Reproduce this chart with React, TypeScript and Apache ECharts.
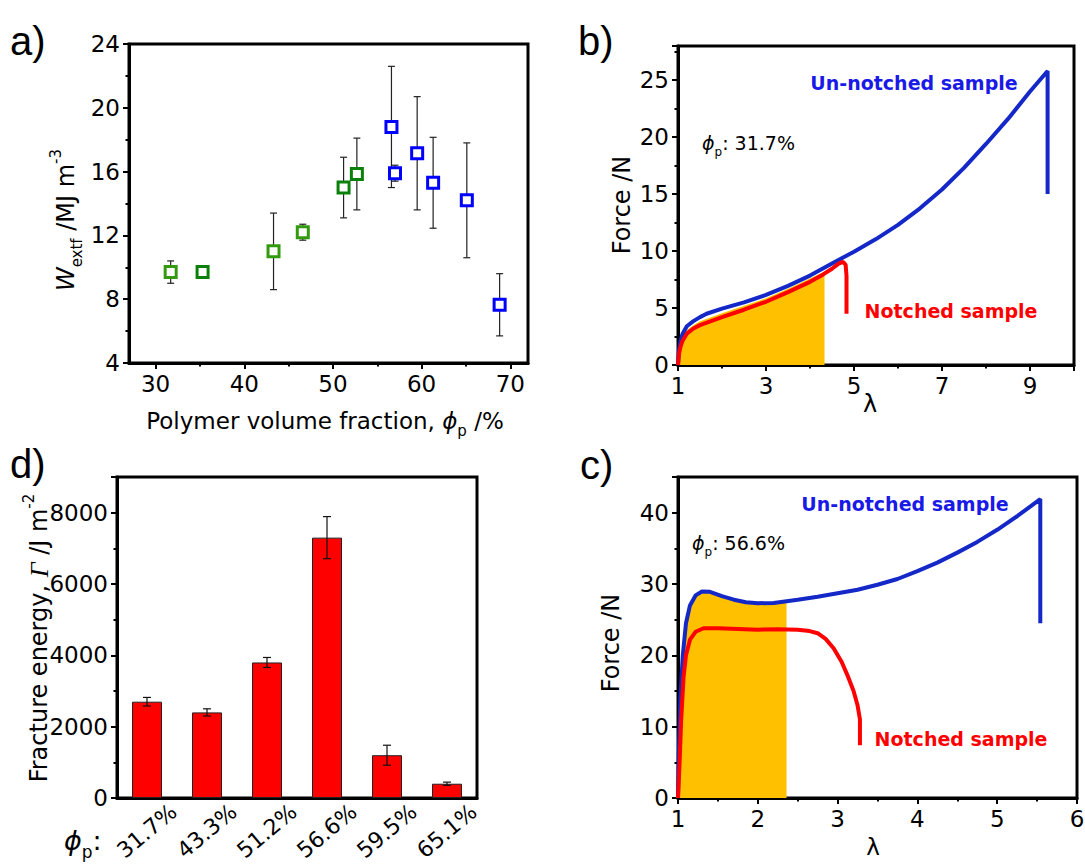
import React, { useEffect, useRef } from "react";
import * as echarts from "echarts";

const FONT = "'DejaVu Sans', 'Liberation Sans', sans-serif";
const SERIF = "'Liberation Serif', 'DejaVu Serif', serif";
const LABEL_FONT = "'Liberation Sans', Arial, sans-serif";

// ---------- panel a: W_extf vs polymer volume fraction ----------
const phiLightGreen = [31.7, 43.3, 46.6];
const wLightGreen = [9.7, 11.0, 12.2];
const errLightGreen = [0.7, 2.4, 0.5];
const phiDarkGreen = [35.3, 51.2, 52.7];
const wDarkGreen = [9.7, 15.0, 15.85];
const errDarkGreen = [0.15, 1.9, 2.25];
const phiBlue = [56.6, 57.0, 59.5, 61.3, 65.1, 68.8];
const wBlue = [18.8, 15.9, 17.15, 15.3, 14.2, 7.65];
const errBlue = [3.8, 0.5, 3.55, 2.85, 3.6, 1.95];
const aXMajorTicks = [30, 40, 50, 60, 70];
const aXMinorTicks = [35, 45, 55, 65];

// ---------- panel b: force vs stretch, phi_p = 31.7% ----------
const bUnnotched: [number, number][] = [
  [1.0, 0], [1.02, 1.2], [1.05, 2.0], [1.1, 2.7], [1.2, 3.4], [1.35, 3.85], [1.5, 4.2],
  [1.65, 4.5], [2.0, 4.95], [2.5, 5.5], [3.0, 6.15], [3.5, 6.95], [4.0, 7.85], [4.5, 8.9],
  [5.0, 9.95], [5.5, 11.05], [6.0, 12.3], [6.5, 13.75], [7.0, 15.4], [7.5, 17.3],
  [8.0, 19.4], [8.5, 21.6], [9.0, 24.0], [9.4, 25.8], [9.4, 15.0],
];
const bNotched: [number, number][] = [
  [1.0, 0], [1.02, 0.9], [1.05, 1.5], [1.1, 2.1], [1.2, 2.75], [1.35, 3.2], [1.5, 3.5],
  [1.75, 3.85], [2.0, 4.2], [2.5, 4.85], [3.0, 5.55], [3.5, 6.4], [4.0, 7.3], [4.3, 7.95],
  [4.5, 8.45], [4.65, 8.9], [4.75, 9.05], [4.81, 8.8], [4.83, 7.8], [4.83, 4.5],
];
const bShaded: [number, number][] = [
  [1.0, 0], [1.02, 1.05], [1.05, 1.75], [1.1, 2.4], [1.2, 3.05], [1.35, 3.5], [1.5, 3.85],
  [1.75, 4.2], [2.0, 4.55], [2.5, 5.2], [3.0, 5.85], [3.5, 6.7], [4.0, 7.6], [4.33, 8.2],
];

// ---------- panel c: force vs stretch, phi_p = 56.6% ----------
const cUnnotched: [number, number][] = [
  [1.0, 0], [1.01, 6], [1.03, 14], [1.06, 20], [1.1, 24.5], [1.15, 27.0], [1.22, 28.4],
  [1.3, 28.95], [1.4, 28.9], [1.55, 28.3], [1.7, 27.8], [1.85, 27.45], [2.0, 27.3],
  [2.2, 27.35], [2.5, 27.8], [2.75, 28.2], [3.0, 28.7], [3.25, 29.2], [3.5, 29.9],
  [3.75, 30.7], [4.0, 31.8], [4.25, 33.0], [4.5, 34.4], [4.75, 35.9], [5.0, 37.6],
  [5.25, 39.5], [5.54, 41.9], [5.54, 24.5],
];
const cNotched: [number, number][] = [
  [1.0, 0], [1.02, 5], [1.04, 11], [1.07, 17], [1.1, 20], [1.15, 22.2], [1.22, 23.3],
  [1.32, 23.8], [1.5, 23.8], [1.75, 23.7], [2.0, 23.6], [2.25, 23.65], [2.5, 23.6],
  [2.65, 23.4], [2.75, 23.1], [2.85, 22.3], [2.95, 21.0], [3.05, 19.1], [3.12, 17.3],
  [3.2, 15.0], [3.25, 13.0], [3.28, 11.0], [3.28, 7.4],
];
const cShaded: [number, number][] = [
  [1.0, 0], [1.01, 6], [1.03, 14], [1.06, 20], [1.1, 24.5], [1.15, 27.0], [1.22, 28.4],
  [1.3, 28.95], [1.4, 28.9], [1.55, 28.3], [1.7, 27.8], [1.85, 27.45], [2.0, 27.3],
  [2.2, 27.35], [2.36, 27.5],
];

// ---------- panel d: fracture energy ----------
const phiLabels = ["31.7%", "43.3%", "51.2%", "56.6%", "59.5%", "65.1%"];
const gamma = [2700, 2400, 3800, 7300, 1200, 400];
const gammaErr = [120, 100, 140, 590, 280, 45];

const BLUE_LINE = "#1428c8";
const RED_LINE = "#ff0000";
const FILL = "#ffc000";

function errorBarRenderer(capHalf: number, color: string, width: number) {
  return (_params: any, api: any) => {
    const x = api.value(0);
    const y = api.value(1);
    const e = api.value(2);
    const top = api.coord([x, y + e]);
    const bot = api.coord([x, y - e]);
    const style = { stroke: color, lineWidth: width };
    return {
      type: "group",
      children: [
        { type: "line", shape: { x1: top[0], y1: top[1], x2: bot[0], y2: bot[1] }, style },
        { type: "line", shape: { x1: top[0] - capHalf, y1: top[1], x2: top[0] + capHalf, y2: top[1] }, style },
        { type: "line", shape: { x1: bot[0] - capHalf, y1: bot[1], x2: bot[0] + capHalf, y2: bot[1] }, style },
      ],
    };
  };
}

const tickStyle = { color: "#000", width: 2 };
const labelStyle = { color: "#000", fontSize: 23, fontFamily: FONT };

function valueAxis(extra: any, showMax = true) {
  return {
    type: "value",
    axisLine: { show: true, onZero: false, lineStyle: { color: "#000", width: 3 } },
    axisTick: { show: true, inside: false, length: 6, lineStyle: tickStyle },
    minorTick: { show: true, splitNumber: 2, length: 3.5, lineStyle: tickStyle },
    splitLine: { show: false },
    minorSplitLine: { show: false },
    axisLabel: { ...labelStyle, margin: 9, showMaxLabel: showMax, formatter: (v: number) => String(v) },
    ...extra,
  };
}

function richBase(size: number, lh: number) {
  const s = Math.round(size * 0.64);
  return {
    n: { fontSize: size, fontFamily: FONT, lineHeight: lh, fill: "#000" },
    i: { fontSize: size, fontFamily: FONT, fontStyle: "italic", lineHeight: lh, fill: "#000" },
    g: { fontSize: size + 2, fontFamily: SERIF, fontStyle: "italic", lineHeight: lh, fill: "#000" },
    sub: { fontSize: s, fontFamily: FONT, lineHeight: lh / 2, verticalAlign: "bottom", fill: "#000" },
    sup: { fontSize: s, fontFamily: FONT, lineHeight: lh / 2, verticalAlign: "top", fill: "#000" },
  };
}

function richText(x: number, y: number, text: string, size: number, rotate = false, align = "center") {
  return {
    type: "text",
    x,
    y,
    rotation: rotate ? Math.PI / 2 : 0,
    style: {
      text,
      align,
      verticalAlign: "middle",
      fontSize: size,
      fontFamily: FONT,
      fill: "#000",
      rich: richBase(size, Math.round(size * 1.5)),
    },
  };
}

function plainText(x: number, y: number, text: string, size: number, color: string, bold = false, align = "center", family = FONT) {
  return {
    type: "text",
    x,
    y,
    style: {
      text,
      align,
      verticalAlign: "middle",
      fontSize: size,
      fontFamily: family,
      fontWeight: bold ? "bold" : "normal",
      fill: color,
    },
  };
}

export default function App() {
  const ref = useRef<HTMLDivElement>(null);

  useEffect(() => {
    if (!ref.current) return;
    const chart = echarts.init(ref.current, undefined, { renderer: "svg" });

    const gridBase = {
      show: true, borderColor: "#000", borderWidth: 3, backgroundColor: "transparent",
      containLabel: false, outerBoundsMode: "none",
    };

    const option: any = {
      animation: false,
      backgroundColor: "#fff",
      grid: [
        { ...gridBase, left: 129, top: 44, width: 399, height: 319 },
        { ...gridBase, left: 678, top: 46, width: 396, height: 319 },
        { ...gridBase, left: 117, top: 477, width: 360, height: 321 },
        { ...gridBase, left: 678, top: 477, width: 399, height: 321 },
      ],
      xAxis: [
        valueAxis({
          gridIndex: 0, min: 27, max: 72, position: "bottom",
          axisTick: { show: true, length: 6, lineStyle: tickStyle, customValues: aXMajorTicks },
          axisLabel: { ...labelStyle, margin: 9, customValues: aXMajorTicks },
          minorTick: { show: false },
        }),
        valueAxis({
          gridIndex: 0, min: 27, max: 72, position: "bottom",
          axisLine: { show: false, onZero: false },
          axisTick: { show: true, length: 3.5, lineStyle: tickStyle, customValues: aXMinorTicks },
          axisLabel: { show: false },
          minorTick: { show: false },
        }),
        valueAxis({ gridIndex: 1, min: 1, max: 10, interval: 2, position: "bottom" }, false),
        {
          type: "category",
          gridIndex: 2,
          data: phiLabels,
          position: "bottom",
          axisLine: { show: true, onZero: false, lineStyle: { color: "#000", width: 3 } },
          axisTick: { show: false },
          axisLabel: {
            ...labelStyle, fontSize: 22, rotate: 40, margin: 33,
            align: "center", verticalAlign: "middle", interval: 0,
          },
          splitLine: { show: false },
        },
        valueAxis({ gridIndex: 3, min: 1, max: 6, interval: 1, position: "bottom" }, true),
      ],
      yAxis: [
        valueAxis({ gridIndex: 0, min: 4, max: 24, interval: 4 }, true),
        valueAxis({ gridIndex: 1, min: 0, max: 28, interval: 5 }, false),
        valueAxis({ gridIndex: 2, min: 0, max: 9000, interval: 2000 }, false),
        valueAxis({ gridIndex: 3, min: 0, max: 45, interval: 10 }, false),
      ],
      series: [
        // panel a error bars
        {
          type: "custom", xAxisIndex: 0, yAxisIndex: 0, z: 3,
          renderItem: errorBarRenderer(3.5, "#222", 1.2),
          encode: { x: 0, y: 1 },
          data: phiLightGreen.map((p, i) => [p, wLightGreen[i], errLightGreen[i]]),
        },
        {
          type: "custom", xAxisIndex: 0, yAxisIndex: 0, z: 3,
          renderItem: errorBarRenderer(3.5, "#222", 1.2),
          encode: { x: 0, y: 1 },
          data: phiDarkGreen.map((p, i) => [p, wDarkGreen[i], errDarkGreen[i]]),
        },
        {
          type: "custom", xAxisIndex: 0, yAxisIndex: 0, z: 3,
          renderItem: errorBarRenderer(3.5, "#222", 1.2),
          encode: { x: 0, y: 1 },
          data: phiBlue.map((p, i) => [p, wBlue[i], errBlue[i]]),
        },
        {
          type: "scatter", xAxisIndex: 0, yAxisIndex: 0, z: 5, symbol: "rect", symbolSize: 11,
          itemStyle: { color: "#fff", borderColor: "#339a0f", borderWidth: 3, opacity: 1 },
          data: phiLightGreen.map((p, i) => [p, wLightGreen[i]]),
        },
        {
          type: "scatter", xAxisIndex: 0, yAxisIndex: 0, z: 5, symbol: "rect", symbolSize: 11,
          itemStyle: { color: "#fff", borderColor: "#0a800a", borderWidth: 3, opacity: 1 },
          data: phiDarkGreen.map((p, i) => [p, wDarkGreen[i]]),
        },
        {
          type: "scatter", xAxisIndex: 0, yAxisIndex: 0, z: 5, symbol: "rect", symbolSize: 11,
          itemStyle: { color: "#fff", borderColor: "#0000ff", borderWidth: 3, opacity: 1 },
          data: phiBlue.map((p, i) => [p, wBlue[i]]),
        },
        // panel b
        {
          type: "line", xAxisIndex: 2, yAxisIndex: 1, z: 1, symbol: "none",
          lineStyle: { width: 0 }, areaStyle: { color: FILL, opacity: 1 }, data: bShaded,
        },
        {
          type: "line", xAxisIndex: 2, yAxisIndex: 1, z: 2, symbol: "none",
          lineStyle: { color: BLUE_LINE, width: 4 }, data: bUnnotched,
        },
        {
          type: "line", xAxisIndex: 2, yAxisIndex: 1, z: 3, symbol: "none",
          lineStyle: { color: RED_LINE, width: 4 }, data: bNotched,
        },
        // panel d
        {
          type: "bar", xAxisIndex: 3, yAxisIndex: 2, barWidth: "50%", z: 2,
          itemStyle: { color: "#ff0000", borderColor: "#222", borderWidth: 1 },
          data: gamma,
        },
        {
          type: "custom", xAxisIndex: 3, yAxisIndex: 2, z: 4,
          renderItem: errorBarRenderer(4, "#111", 1.2),
          encode: { x: 0, y: 1 },
          data: gamma.map((g, i) => [i, g, gammaErr[i]]),
        },
        // panel c
        {
          type: "line", xAxisIndex: 4, yAxisIndex: 3, z: 1, symbol: "none",
          lineStyle: { width: 0 }, areaStyle: { color: FILL, opacity: 1 }, data: cShaded,
        },
        {
          type: "line", xAxisIndex: 4, yAxisIndex: 3, z: 2, symbol: "none",
          lineStyle: { color: BLUE_LINE, width: 4 }, data: cUnnotched,
        },
        {
          type: "line", xAxisIndex: 4, yAxisIndex: 3, z: 3, symbol: "none",
          lineStyle: { color: RED_LINE, width: 4 }, data: cNotched,
        },
      ],
      graphic: [
        // panel labels
        plainText(10, 41, "a)", 40, "#000", false, "left", LABEL_FONT),
        plainText(578, 41, "b)", 40, "#000", false, "left", LABEL_FONT),
        plainText(10, 464, "d)", 40, "#000", false, "left", LABEL_FONT),
        plainText(580, 465, "c)", 40, "#000", false, "left", LABEL_FONT),
        // panel a titles
        richText(66, 220, "{i|W}{sub|extf}{n| /MJ m}{sup|-3}", 24, true),
        richText(325, 421, "{n|Polymer volume fraction, }{i|ϕ}{sub|p}{n| /%}", 23),
        // panel b titles & annotations
        richText(622, 205, "{n|Force /N}", 24, true),
        plainText(870, 404, "λ", 24, "#000"),
        plainText(914, 83, "Un-notched sample", 19, "#1a1ae6", true),
        plainText(951, 311, "Notched sample", 19, "#ff0000", true),
        richText(702, 143, "{i|ϕ}{sub|p}{n|: 31.7%}", 19, false, "left"),
        // panel c titles & annotations
        richText(611, 643, "{n|Force /N}", 24, true),
        plainText(873, 847, "λ", 23, "#000"),
        plainText(905, 504, "Un-notched sample", 19, "#1a1ae6", true),
        plainText(961, 739, "Notched sample", 19, "#ff0000", true),
        richText(692, 543, "{i|ϕ}{sub|p}{n|: 56.6%}", 19, false, "left"),
        // panel d titles
        richText(39, 638, "{n|Fracture energy, }{g|Γ}{n| /J m}{sup|-2}", 24, true),
        richText(64, 840, "{i|ϕ}{sub|p}{n|:}", 27, false, "left"),
      ],
    };

    chart.setOption(option);
    return () => chart.dispose();
  }, []);

  return (
    <div
      ref={ref}
      style={{ position: "absolute", left: 0, top: 0, width: 1085, height: 865, background: "#fff" }}
    />
  );
}
